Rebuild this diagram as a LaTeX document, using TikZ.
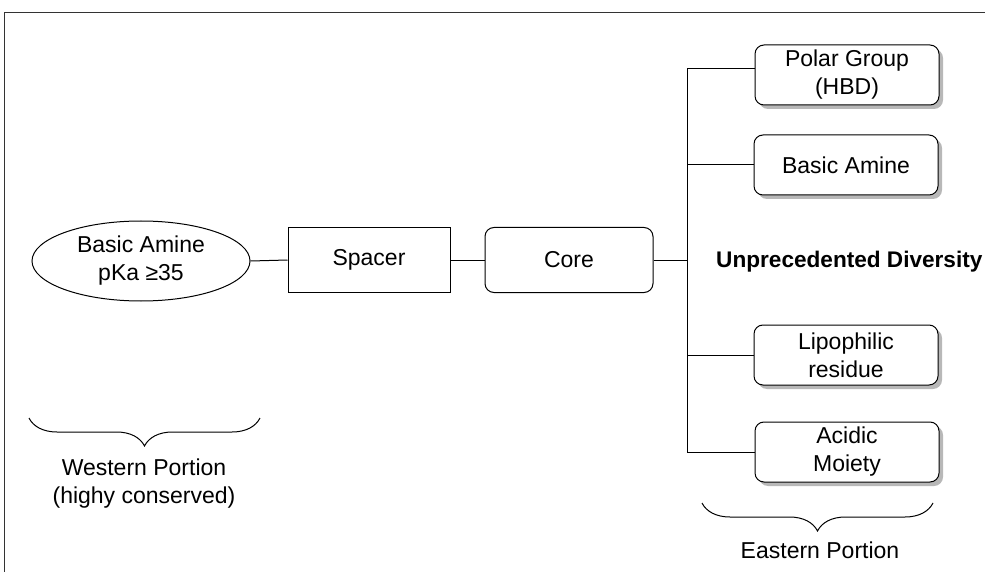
\documentclass[tikz,border=0pt]{standalone}
\usepackage{fontspec}
\setmainfont{Liberation Sans}
\usetikzlibrary{shapes.geometric,shadows,decorations.pathreplacing}
\begin{document}
\begin{tikzpicture}[x=1pt,y=-1pt,
  txt/.style={font=\fontsize{23}{28}\selectfont, align=center, inner sep=0pt},
  sqbox/.style={txt, draw, line width=1pt, minimum width=162pt, minimum height=64pt},
  corebox/.style={txt, draw, line width=1pt, rounded corners=9pt, minimum width=168pt, minimum height=65pt},
  rbox/.style={txt, draw, line width=1pt, rounded corners=9pt, fill=white,
    drop shadow={shadow xshift=4pt, shadow yshift=-4pt, fill=black!35, opacity=0.8},
    minimum width=184pt, minimum height=60pt},
  conn/.style={line width=1pt},
  brc/.style={decorate, decoration={brace, amplitude=28pt, mirror}, line width=1pt}]
\useasboundingbox (0,0) rectangle (985,572);
\clip (0,0) rectangle (985,572);
% frame
\draw[line width=1.4pt, black!80] (4.5,572) -- (4.5,12.7) -- (985,12.7);
% western part
\node[txt, draw, ellipse, line width=1pt, minimum width=218pt, minimum height=80pt] (ell) at (141,261) {Basic Amine\\pKa ≥35};
\node[sqbox] (spacer) at (369,260) {Spacer};
\node[corebox] (core) at (569,260) {Core};
% eastern boxes
\node[rbox] (polar) at (847,75) {Polar Group\\(HBD)};
\node[rbox] (basic) at (846,165) {Basic Amine};
\node[rbox] (lipo) at (846,355) {Lipophilic\\residue};
\node[rbox] (acid) at (847,452) {Acidic\\Moiety};
\node[txt, font=\fontsize{22.6}{28}\selectfont\bfseries, anchor=west] (div) at (716,262) {Unprecedented Diversity};
% connectors
\coordinate (trunk) at (687,260);
\coordinate (pj) at ([yshift=6pt]polar.west);
\draw[conn] (ell.east) -- (spacer.west);
\draw[conn] (spacer.east) -- (core.west);
\draw[conn] (core.east) -- (trunk);
\draw[conn] (pj) -- (pj -| trunk) -- (acid.west -| trunk) -- (acid.west);
\draw[conn] (basic.west) -- (basic.west -| trunk);
\draw[conn] (lipo.west) -- (lipo.west -| trunk);
% braces and labels
\coordinate (wb1) at (29,418);
\coordinate (wb2) at (260,418);
\coordinate (eb1) at (702,503);
\coordinate (eb2) at (933,503);
\draw[brc] (wb1) -- (wb2);
\draw[brc] (eb1) -- (eb2);
\node[txt] (west) at (144,484) {Western Portion\\(highy conserved)};
\node[txt] (east) at (820,550) {Eastern Portion};
\end{tikzpicture}
\end{document}
